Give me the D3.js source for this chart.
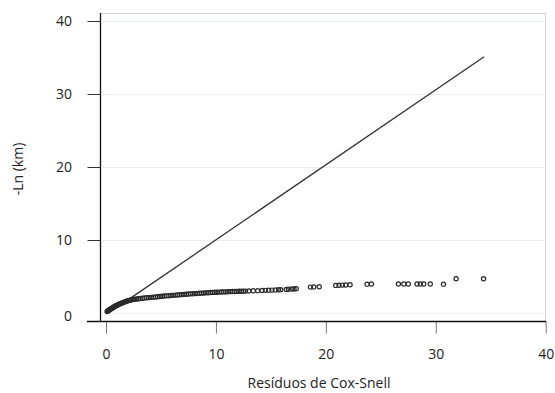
<!DOCTYPE html>
<html>
<head>
<meta charset="utf-8">
<script src="https://cdn.jsdelivr.net/npm/d3@7"></script>
<style>
  html, body { margin: 0; padding: 0; background: #fff; }
  svg { display: block; font-family: "Open Sans", "Noto Sans", sans-serif; }
</style>
</head>
<body>
<svg id="chart" width="555" height="393"></svg>
<script>
// ---- data ----
const xTicks = [0, 10, 20, 30, 40];
const yTicks = [0, 10, 20, 30, 40];
const xTitle = "Resíduos de Cox-Snell";
const yTitle = "-Ln (km)";

// Cox-Snell residuals (x) and -ln(KM) (y)
const residX = [
  0.10,0.15,0.20,0.25,0.30,0.35,0.40,0.47,0.54,0.61,0.68,0.75,0.82,0.90,0.98,1.06,1.14,1.22,1.30,1.40,
  1.50,1.60,1.70,1.80,1.90,2.00,2.12,2.24,2.36,2.50,2.65,2.80,2.95,3.10,3.30,3.50,3.70,3.90,4.10,4.30,
  4.50,4.70,4.90,5.10,5.30,5.50,5.70,5.90,6.10,6.30,6.50,6.70,6.90,7.10,7.30,7.50,7.70,7.90,8.10,8.30,
  8.50,8.70,8.90,9.10,9.30,9.50,9.70,9.90,10.10,10.30,10.50,10.70,10.90,11.10,11.30,11.50,11.70,11.90,12.10,12.30,
  12.50,12.70,13.00,13.40,13.80,14.20,14.50,14.80,15.10,15.40,15.70,15.90,16.40,16.60,16.90,17.10,17.30,
  18.60,18.90,19.40,20.90,21.20,21.50,21.80,22.20,23.75,24.15,
  26.60,27.10,27.50,28.30,28.60,28.90,29.50,30.70,31.85,34.35
];
const negLnKM = [
  0.20,0.26,0.32,0.37,0.42,0.47,0.52,0.59,0.66,0.73,0.80,0.86,0.92,0.98,1.04,1.10,1.16,1.22,1.28,1.34,
  1.40,1.46,1.52,1.58,1.63,1.68,1.73,1.78,1.82,1.86,1.90,1.93,1.96,1.99,2.02,2.05,2.08,2.11,2.14,2.17,
  2.20,2.23,2.26,2.29,2.32,2.35,2.37,2.40,2.42,2.45,2.47,2.50,2.52,2.55,2.57,2.60,2.62,2.64,2.66,2.68,
  2.70,2.72,2.74,2.76,2.78,2.80,2.82,2.84,2.85,2.86,2.88,2.89,2.90,2.92,2.93,2.94,2.95,2.96,2.97,2.98,
  2.99,3.00,3.02,3.04,3.06,3.08,3.10,3.12,3.14,3.16,3.18,3.20,3.23,3.25,3.28,3.30,3.32,
  3.55,3.57,3.60,3.78,3.80,3.82,3.84,3.86,3.95,3.97,
  3.97,3.98,3.98,3.98,3.98,3.98,3.98,3.95,4.70,4.70
];

// reference line endpoints
const lineX = [2.2, 34.4];
const lineY = [2.0, 35.1];

// ---- drawing ----
const svg = d3.select("#chart");
const x = d3.scaleLinear().domain([0, 40]).range([106, 545.7]);
const y = d3.scaleLinear().domain([0, 40]).range([313, 21]);

const plotLeft = 100.5, plotRight = 545.5, plotTop = 13.5, plotBottom = 321.5;

// gridlines
svg.append("g").selectAll("line").data(yTicks).join("line")
  .attr("x1", plotLeft + 1).attr("x2", plotRight - 1)
  .attr("y1", d => Math.round(y(d)) + 0.5).attr("y2", d => Math.round(y(d)) + 0.5)
  .attr("stroke", "#e9efef").attr("stroke-width", 1);

// top and right frame (light)
svg.append("path")
  .attr("d", `M${plotLeft},${plotTop}H${plotRight}V${plotBottom}`)
  .attr("fill", "none").attr("stroke", "#d4d4d4").attr("stroke-width", 1);

// y axis
const yAxis = svg.append("g").attr("transform", `translate(${plotLeft},0)`)
  .call(d3.axisLeft(y).tickValues(yTicks.filter(d => d !== 0)).tickSize(13).tickPadding(15.5).tickFormat(d3.format("d")));
yAxis.select(".domain").remove();
yAxis.selectAll(".tick line").attr("stroke", "#333");
yAxis.selectAll("text").attr("font-size", 14).attr("fill", "#222").attr("font-family", "Open Sans, Noto Sans, sans-serif");
// zero label (tick mark hidden under the x axis line)
svg.append("text").attr("x", 72).attr("y", y(0) + 4).attr("dy", "0.32em")
  .attr("text-anchor", "end").attr("font-size", 14).attr("fill", "#222").text(d3.format("d")(0));

// x axis
const xAxis = svg.append("g").attr("transform", `translate(0,${plotBottom})`)
  .call(d3.axisBottom(x).tickValues(xTicks).tickSize(12).tickPadding(16).tickFormat(d3.format("d")));
xAxis.select(".domain").remove();
xAxis.selectAll(".tick line").attr("stroke", "#777");
xAxis.selectAll("text").attr("font-size", 14).attr("fill", "#222").attr("font-family", "Open Sans, Noto Sans, sans-serif");

// axis lines
svg.append("line").attr("x1", 87).attr("x2", plotRight + 0.5)
  .attr("y1", plotBottom).attr("y2", plotBottom).attr("stroke", "#111").attr("stroke-width", 1.3);
svg.append("line").attr("x1", plotLeft).attr("x2", plotLeft)
  .attr("y1", plotTop - 0.5).attr("y2", plotBottom).attr("stroke", "#111").attr("stroke-width", 1.3);

// reference line
svg.append("line")
  .attr("x1", x(lineX[0])).attr("y1", y(lineY[0]))
  .attr("x2", x(lineX[1])).attr("y2", y(lineY[1]))
  .attr("stroke", "#333").attr("stroke-width", 1.3);

// points
const pts = residX.map((v, i) => [v, negLnKM[i]]);
svg.append("g").selectAll("circle").data(pts).join("circle")
  .attr("cx", d => x(d[0])).attr("cy", d => y(d[1]))
  .attr("r", 2.1)
  .attr("fill", "none").attr("stroke", "#2a2a2a").attr("stroke-width", 1.2);

// titles
svg.append("text").attr("x", 319).attr("y", 388).attr("text-anchor", "middle")
  .attr("font-size", 14).attr("fill", "#222").text(xTitle);
svg.append("text").attr("transform", "translate(23,169) rotate(-90)").attr("text-anchor", "middle")
  .attr("font-size", 14).attr("fill", "#222").text(yTitle);
</script>
</body>
</html>
